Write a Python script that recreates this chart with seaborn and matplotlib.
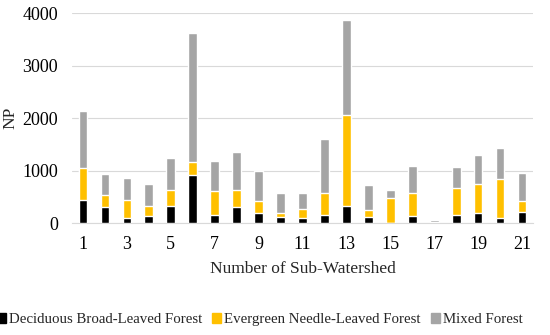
import matplotlib
matplotlib.use("Agg")
import matplotlib.pyplot as plt
import seaborn as sns
import pandas as pd
from matplotlib.patches import Patch

watersheds = [str(i) for i in range(1, 22)]
deciduous = [438, 305, 89, 133, 318, 914, 159, 298, 197, 108, 95, 159, 330, 114, 5, 133, 5, 146, 190, 95, 216]
evergreen = [610, 228, 356, 191, 317, 248, 444, 337, 216, 82, 165, 406, 1721, 140, 478, 439, 20, 521, 559, 743, 209]
mixed = [1086, 394, 419, 413, 610, 2464, 584, 711, 584, 382, 312, 1042, 1810, 476, 152, 520, 39, 400, 540, 584, 521]
tick_labels = [str(i) for i in range(1, 22, 2)]

df = pd.DataFrame({"ws": watersheds, "D": deciduous, "E": evergreen, "M": mixed})
df["cumE"] = df["D"] + df["E"]
df["total"] = df["cumE"] + df["M"]

sns.set_style("white")
plt.rcParams["font.family"] = ["Liberation Serif", "DejaVu Serif"]

c_d, c_e, c_m = "#000000", "#FFC000", "#A5A5A5"

fig = plt.figure(figsize=(5.5, 3.35), dpi=100)
ax = fig.add_axes([0.131, 0.334, 0.838, 0.627])

sns.barplot(data=df, x="ws", y="total", order=watersheds, color=c_m, width=0.4, saturation=1, ax=ax, zorder=2)
sns.barplot(data=df, x="ws", y="cumE", order=watersheds, color=c_e, width=0.4, saturation=1, ax=ax, zorder=3)
sns.barplot(data=df, x="ws", y="D", order=watersheds, color=c_d, width=0.4, saturation=1, ax=ax, zorder=4)

ax.set_ylim(0, 4000)
ax.set_xlim(-0.5, 20.5)
ax.set_yticks([0, 1000, 2000, 3000, 4000])
ax.set_xticks(range(0, 21, 2))
ax.set_xticklabels(tick_labels)
ax.grid(axis="y", color="#D9D9D9", linewidth=0.8, zorder=0)
ax.set_axisbelow(True)
for s in ["top", "right", "left"]:
    ax.spines[s].set_visible(False)
ax.spines["bottom"].set_color("#D9D9D9")
ax.tick_params(axis="both", length=0, labelsize=13, colors="#000000")
ax.tick_params(axis="y", pad=10)
ax.tick_params(axis="x", pad=9)
ax.set_xlabel("Number of Sub-Watershed", fontsize=12.5, labelpad=6)
ax.set_ylabel("NP", fontsize=12.5, labelpad=3)

handles = [Patch(color=c_d, label="Deciduous Broad-Leaved Forest"),
           Patch(color=c_e, label="Evergreen Needle-Leaved Forest"),
           Patch(color=c_m, label="Mixed Forest")]
fig.legend(handles=handles, loc="center", bbox_to_anchor=(0.472, 0.045), ncol=3, frameon=False,
           fontsize=10.7, handlelength=0.6, handleheight=0.6, handletextpad=0.2, columnspacing=0.7)

fig.savefig("out.png", dpi=100)
